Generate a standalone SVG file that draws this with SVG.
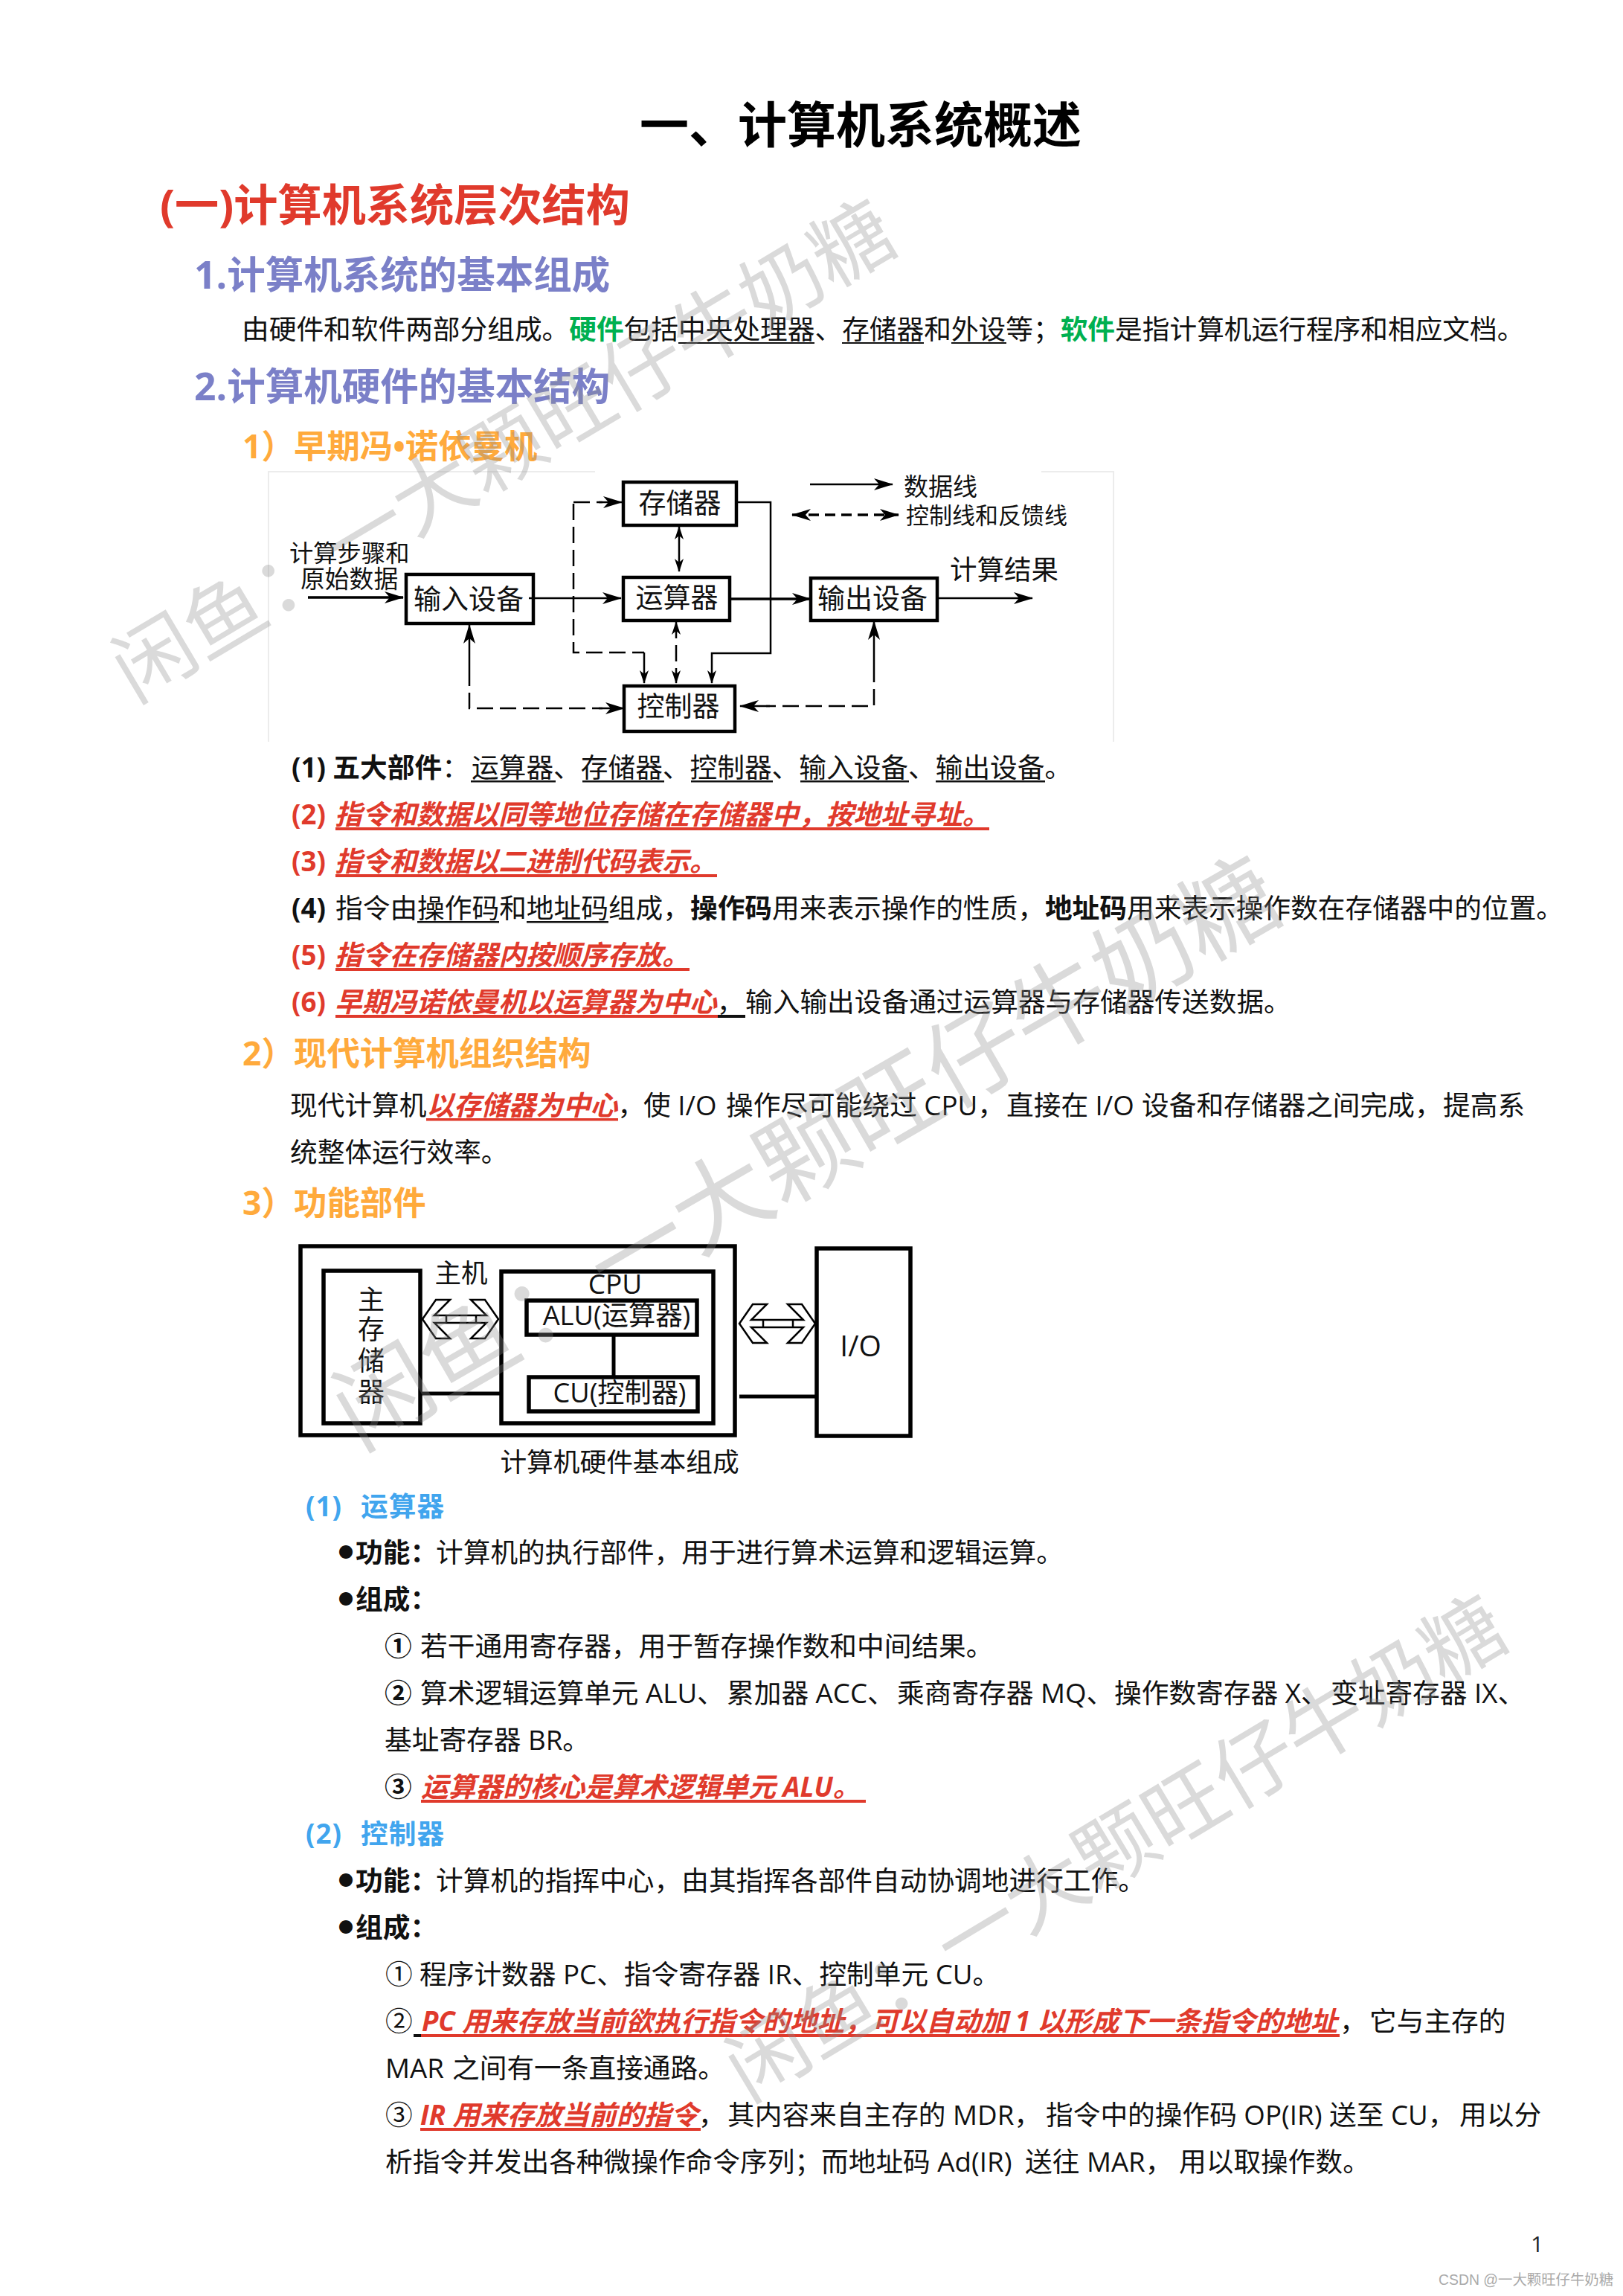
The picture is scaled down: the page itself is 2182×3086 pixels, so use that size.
<svg xmlns="http://www.w3.org/2000/svg" width="2182" height="3086" viewBox="0 0 2182 3086">
<style>
text{font-family:"Open Sans","Noto Sans CJK SC",sans-serif;font-size:36.7px;fill:#111}
.b{font-weight:700}
.r{font-weight:700;font-style:italic;fill:#e03a2c}
.rn{font-weight:700;fill:#e03a2c}
.g{font-weight:700;fill:#00b050}
.h0{font-size:66px;font-weight:700;fill:#000}
.h1{font-size:59.200px;font-weight:700;fill:#e03a2c}
.h2{font-size:51.500px;font-weight:700;fill:#7b80c8}
.h3{font-size:44.400px;font-weight:700;fill:#ffaa3c}
.h4{font-weight:700;fill:#41a5ee;letter-spacing:1px}
.l{font-size:37px;text-anchor:middle}
.bu{font-size:20px;font-weight:700}
.wm{font-size:109px;fill:#8c8c8c;fill-opacity:.32}
.box{fill:none;stroke:#000;stroke-width:4.500}
.box2{fill:none;stroke:#000;stroke-width:5.500}
.c{fill:none;stroke:#000;stroke-width:2.500}
.t{stroke-width:3.500}
.d{stroke-dasharray:22 9}
.ru{fill:#e03a2c}
.ku{fill:#111}
.faint{stroke:#ececec;stroke-width:2;fill:none}
.ha{fill:#fff;stroke:#000;stroke-width:2.500}
.ln{stroke:#000;stroke-width:5;fill:none}
</style>
<defs>
<marker id="ah" viewBox="0 0 26 16" refX="25" refY="8" markerWidth="26" markerHeight="16" markerUnits="userSpaceOnUse" orient="auto-start-reverse"><path d="M0,0 L26,8 L0,16 L7,8 Z" fill="#000"/></marker>
<marker id="as" viewBox="0 0 18 12" refX="17" refY="6" markerWidth="18" markerHeight="12" markerUnits="userSpaceOnUse" orient="auto-start-reverse"><path d="M0,0 L18,6 L0,12 L5,6 Z" fill="#000"/></marker>
<g id="hollow"><path class="ha" d="M0,0 L18,-26 L37,-26 L16,-5 L86,-5 L65,-26 L84,-26 L102,0 L84,26 L65,26 L86,5 L16,5 L37,26 L18,26 Z"/><path class="c" d="M32,-5V5M72,-5V5"/></g>
</defs>
<rect width="2182" height="3086" fill="#fff"/>

<text class="h0" x="860" y="192">一、计算机系统概述</text>
<text class="h1" x="215" y="297">(一)计算机系统层次结构</text>
<text class="h2" x="261" y="388">1.计算机系统的基本组成</text>
<text x="325" y="456">由硬件和软件两部分组成。<tspan class="g">硬件</tspan>包括中央处理器、存储器和外设等；<tspan class="g">软件</tspan>是指计算机运行程序和相应文档。</text>
<rect class="ku" x="912" y="460" width="183" height="2"/><rect class="ku" x="1132" y="460" width="110" height="2"/><rect class="ku" x="1279" y="460" width="74" height="2"/>
<text class="h2" x="261" y="538">2.计算机硬件的基本结构</text>
<text class="h3" x="326" y="616">1）<tspan x="395">早期冯•诺依曼机</tspan></text>

<g id="figure-1">
<path class="faint" d="M361,997V634H800M1400,634H1497V997"/>
<g id="node-memory"><rect class="box" x="838" y="648" width="152" height="58"/><text class="l" x="914" y="690">存储器</text></g>
<g id="node-alu"><rect class="box" x="838" y="776" width="143" height="58"/><text class="l" x="910" y="817">运算器</text></g>
<g id="node-input"><rect class="box" x="546" y="772" width="171" height="66"/><text class="l" x="630" y="819">输入设备</text></g>
<g id="node-output"><rect class="box" x="1090" y="777" width="170" height="57"/><text class="l" x="1173" y="818">输出设备</text></g>
<g id="node-control"><rect class="box" x="839" y="922" width="149" height="61"/><text class="l" x="912" y="963">控制器</text></g>
<g id="connectors">
<path class="c t" d="M414,803H542" marker-end="url(#ah)"/>
<path class="c" d="M711,804H835" marker-end="url(#ah)"/>
<path class="c t" d="M981,805H1090" marker-end="url(#ah)"/>
<path class="c" d="M1260,804H1388" marker-end="url(#ah)"/>
<path class="c" d="M913,708V768" marker-start="url(#as)" marker-end="url(#as)"/>
<path class="c" d="M990,675H1036V878H957V918" marker-end="url(#as)"/>
<path class="c d" d="M771,677V877H866"/>
<path class="c" d="M866,877V918" marker-end="url(#as)"/>
<path class="c d" d="M771,675H810"/>
<path class="c" d="M805,675H836" marker-end="url(#ah)"/>
<path class="c d" d="M909,836V918" stroke-dasharray="12 6" marker-start="url(#as)" marker-end="url(#as)"/>
<path class="c" d="M631,840V900" marker-start="url(#ah)"/>
<path class="c d" d="M631,900V952H810"/>
<path class="c" d="M805,952H839" marker-end="url(#ah)"/>
<path class="c" d="M1175,835V895" marker-start="url(#ah)"/>
<path class="c d" d="M1175,895V949H1030"/>
<path class="c" d="M1035,949H995" marker-end="url(#ah)"/>
<path class="c" d="M1089,651H1200" marker-end="url(#ah)"/>
<path class="c t" d="M1065,692H1208" stroke-dasharray="14 8" marker-start="url(#ah)" marker-end="url(#ah)"/>
</g>
<text x="1215" y="666" style="font-size:33px">数据线</text>
<text x="1218" y="704" style="font-size:31px">控制线和反馈线</text>
<text x="389" y="755" style="font-size:32.300px">计算步骤和</text>
<text x="404" y="790" style="font-size:32.800px">原始数据</text>
<text x="1277" y="779" style="font-size:36.500px">计算结果</text>
</g>

<text x="392" y="1045"><tspan class="b">(1) 五大部件</tspan>：<tspan x="634">运算器、存储器、控制器、输入设备、输出设备。</tspan></text>
<rect class="ku" x="633" y="1049" width="114" height="2.500"/><rect class="ku" x="783" y="1049" width="110" height="2.500"/><rect class="ku" x="929" y="1049" width="110" height="2.500"/><rect class="ku" x="1076" y="1049" width="146" height="2.500"/><rect class="ku" x="1258" y="1049" width="147" height="2.500"/>
<text x="392" y="1108"><tspan class="rn">(2) </tspan><tspan class="r" x="450">指令和数据以同等地位存储在存储器中，按地址寻址。</tspan></text>
<rect class="ru" x="451" y="1112" width="879" height="4"/>
<text x="392" y="1171"><tspan class="rn">(3) </tspan><tspan class="r" x="450">指令和数据以二进制代码表示。</tspan></text>
<rect class="ru" x="451" y="1175" width="513" height="4"/>
<text x="392" y="1234"><tspan class="b">(4) </tspan><tspan x="451">指令由操作码和地址码组成，</tspan><tspan class="b">操作码</tspan>用来表示操作的性质，<tspan class="b">地址码</tspan>用来表示操作数在存储器中的位置。</text>
<rect class="ku" x="561" y="1238" width="110" height="2.500"/><rect class="ku" x="708" y="1238" width="110" height="2.500"/>
<text x="392" y="1297"><tspan class="rn">(5) </tspan><tspan class="r" x="450">指令在存储器内按顺序存放。</tspan></text>
<rect class="ru" x="451" y="1301" width="476" height="4"/>
<text x="392" y="1360"><tspan class="rn">(6) </tspan><tspan class="r" x="450">早期冯诺依曼机以运算器为中心</tspan>，<tspan x="1002">输入输出设备通过运算器与存储器传送数据。</tspan></text>
<rect class="ru" x="451" y="1364" width="514" height="4"/><rect class="ku" x="965" y="1364" width="37" height="4"/>

<text class="h3" x="326" y="1432">2）<tspan x="395">现代计算机组织结构</tspan></text>
<text x="390" y="1499">现代计算机<tspan class="r">以存储器为中心</tspan>，<tspan x="865">使 I/O </tspan><tspan x="976">操作尽可能绕过 CPU，</tspan><tspan x="1353">直接在 I/O </tspan><tspan x="1535">设备和存储器之间完成，</tspan><tspan x="1940">提高系</tspan></text>
<rect class="ru" x="573" y="1503" width="258" height="3.500"/>
<text x="390" y="1562">统整体运行效率。</text>
<text class="h3" x="326" y="1633">3）<tspan x="395">功能部件</tspan></text>

<g id="figure-2">
<g id="node-host"><rect class="box2" x="404" y="1675" width="584" height="254"/></g>
<g id="node-main-memory"><rect class="box2" x="435" y="1708" width="130" height="205"/>
<text class="l" x="499" y="1760" style="font-size:36px">主</text><text class="l" x="499" y="1800" style="font-size:36px">存</text><text class="l" x="499" y="1842" style="font-size:36px">储</text><text class="l" x="499" y="1884" style="font-size:36px">器</text></g>
<g id="node-cpu"><rect class="box2" x="674" y="1709" width="285" height="204"/><text class="l" x="827" y="1739">CPU</text></g>
<g id="node-alu2"><rect class="box2" x="708" y="1748" width="229" height="46"/><text class="l" x="829" y="1781" style="font-size:36.300px">ALU(运算器)</text></g>
<g id="node-cu"><rect class="box2" x="711" y="1851" width="227" height="46"/><text class="l" x="833" y="1885" style="font-size:36.200px">CU(控制器)</text></g>
<g id="node-io"><rect class="box2" x="1098" y="1678" width="126" height="252"/><text class="l" x="1157" y="1823" style="font-size:39px">I/O</text></g>
<text class="l" x="620" y="1724" style="font-size:35.500px">主机</text>
<g id="connectors-2">
<path class="ln" d="M825,1794V1851"/>
<path class="ln" d="M565,1873H674"/>
<path class="ln" d="M994,1877H1098"/>
<use href="#hollow" x="568" y="1773"/>
<use href="#hollow" x="994" y="1779"/>
</g>
<text class="l" x="833" y="1978" style="font-size:35.700px">计算机硬件基本组成</text>
</g>

<text class="h4" x="411" y="2038">(1)<tspan x="485">运算器</tspan></text>
<text class="bu" x="455" y="2094">●</text><text x="478" y="2100"><tspan class="b">功能：</tspan><tspan x="586">计算机的执行部件，用于进行算术运算和逻辑运算。</tspan></text>
<text class="bu" x="455" y="2157">●</text><text class="b" x="478" y="2163">组成：</text>
<text x="517" y="2226"><tspan class="b">①</tspan><tspan x="565">若干通用寄存器，用于暂存操作数和中间结果。</tspan></text>
<text x="517" y="2289"><tspan class="b">②</tspan><tspan x="565">算术逻辑运算单元 ALU、</tspan><tspan x="977">累加器 ACC、</tspan><tspan x="1206">乘商寄存器 MQ、</tspan><tspan x="1498">操作数寄存器 X、</tspan><tspan x="1789">变址寄存器 IX、</tspan></text>
<text x="517" y="2352">基址寄存器 BR。</text>
<text x="517" y="2415"><tspan class="b">③</tspan><tspan class="r" x="566">运算器的核心是算术逻辑单元 ALU。</tspan></text>
<rect class="ru" x="566" y="2419" width="598" height="4"/>
<text class="h4" x="411" y="2478">(2)<tspan x="485">控制器</tspan></text>
<text class="bu" x="455" y="2535">●</text><text x="478" y="2541"><tspan class="b">功能：</tspan><tspan x="586">计算机的指挥中心，由其指挥各部件自动协调地进行工作。</tspan></text>
<text class="bu" x="455" y="2598">●</text><text class="b" x="478" y="2604">组成：</text>
<text x="518" y="2667">①<tspan x="564">程序计数器 PC、指令寄存器 IR、控制单元 CU。</tspan></text>
<text x="518" y="2730">②<tspan class="r" x="567">PC 用来存放当前欲执行指令的地址，可以自动加 1 以形成下一条指令的地址</tspan><tspan x="1801">，</tspan><tspan x="1841">它与主存的</tspan></text>
<rect class="ru" x="566" y="2734" width="1235" height="4"/><rect class="ku" x="556" y="2734" width="10" height="4"/>
<text x="518" y="2793">MAR <tspan x="608">之间有一条直接通路。</tspan></text>
<text x="518" y="2856">③<tspan class="r" x="565">IR 用来存放当前的指令</tspan>，<tspan x="978">其内容来自主存的 MDR，</tspan><tspan x="1406">指令中的操作码 OP(IR) 送至 CU，</tspan><tspan x="1962">用以分</tspan></text>
<rect class="ru" x="565" y="2860" width="377" height="4"/>
<text x="518" y="2919">析指令并发出各种微操作命令序列；<tspan x="1104">而地址码 Ad(IR) </tspan><tspan x="1378">送往 MAR，</tspan><tspan x="1585">用以取操作数。</tspan></text>

<text x="2058" y="3027" style="font-size:30px;fill:#222">1</text>
<text x="1934" y="3071" style="font-size:19.400px;fill:#aaa;font-family:'Liberation Sans','Noto Sans CJK SC',sans-serif">CSDN @一大颗旺仔牛奶糖</text>

<g id="watermarks">
<text class="wm" transform="translate(181,945) rotate(-30.700)">闲鱼：一大颗旺仔牛奶糖</text>
<text class="wm" transform="translate(483,1950) rotate(-30)" style="font-size:131px">闲鱼：一大颗旺仔牛奶糖</text>
<text class="wm" transform="translate(1006,2826) rotate(-31)">闲鱼：一大颗旺仔牛奶糖</text>
</g>
</svg>
